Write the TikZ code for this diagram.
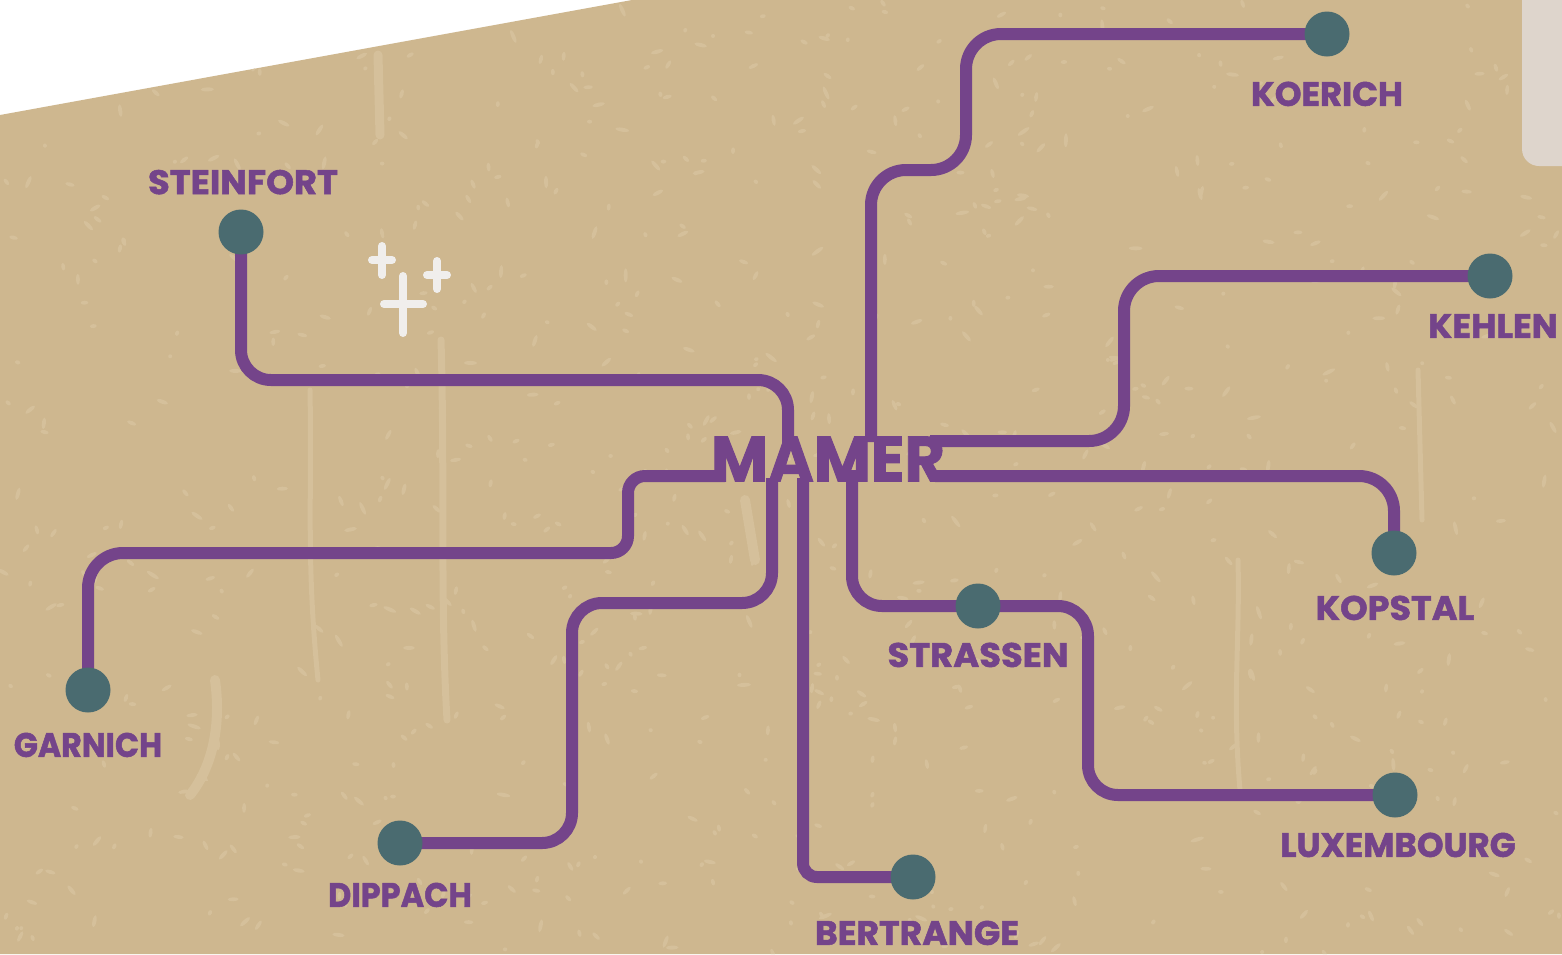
\documentclass[tikz,border=0pt]{standalone}
\usepackage{fontspec}
\setmainfont{Poppins}[BoldFeatures={FakeBold=1.5}]
\usetikzlibrary{positioning,backgrounds}
\definecolor{sand}{HTML}{CEB78F}
\definecolor{sandlight}{HTML}{D5C09B}
\definecolor{plum}{HTML}{74448A}
\definecolor{slate}{HTML}{4A6B70}
\definecolor{chalk}{HTML}{F0EEEC}
\definecolor{panelgray}{HTML}{DED5CC}
\newcommand{\stopname}[2]{\scalebox{#1}[1]{#2}}
\tikzset{
  stop/.style={
    circle,
    fill=slate,
    draw=none,
    inner sep=0pt,
    minimum size=45pt
  },
  stoplabel/.style={
    text=plum,
    inner sep=0pt,
    text height=24pt,
    text depth=0pt,
    font=\fontsize{34}{34}\selectfont\bfseries
  },
  hublabel/.style={
    text=plum,
    inner sep=0pt,
    font=\fontsize{64}{64}\selectfont\bfseries
  },
  line/.style={draw=plum,line width=12pt},
  sparkle/.style={draw=chalk,line width=8pt,line cap=round},
  streak/.style={draw=sandlight,line cap=round}
}

\begin{document}
\begin{tikzpicture}[x=1pt,y=-1pt]
\useasboundingbox (0,0) rectangle (1562,954);
% hub and stops
\node[hublabel] (mamer) at (828,459) {\stopname{0.97}{MAMER}};
\coordinate (hubkoerich) at (871,442);
\coordinate (hubkehlen) at (930,441);
\coordinate (hubkopstal) at (935,476);
\coordinate (hubstrassen) at (852,470);
\coordinate (hubbertrange) at (803,478);
\coordinate (hubdippach) at (772,478);
\coordinate (hubgarnich) at (725,476);
\coordinate (hubsteinfort) at (788,445);
\node[stop] (koerich) at (1327,34) {};
\node[stop] (kehlen) at (1490,276) {};
\node[stop] (kopstal) at (1394,553) {};
\node[stop] (strassen) at (978,606) {};
\node[stop] (luxembourg) at (1395,795) {};
\node[stop] (bertrange) at (913,877) {};
\node[stop] (dippach) at (400,843) {};
\node[stop] (garnich) at (88,690) {};
\node[stop] (steinfort) at (241,232) {};
% labels
\node[stoplabel,below=25pt of koerich] (koerichlabel) {KOERICH};
\node[stoplabel,below=15pt of kehlen,xshift=3pt] (kehlenlabel) {\stopname{1.02}{KEHLEN}};
\node[stoplabel,below=20pt of kopstal,xshift=1pt] (kopstallabel) {\stopname{1.03}{KOPSTAL}};
\node[stoplabel,below=14pt of strassen] (strassenlabel) {\stopname{1.04}{STRASSEN}};
\node[stoplabel,below=15pt of luxembourg,xshift=3pt] (luxembourglabel) {LUXEMBOURG};
\node[stoplabel,below=21pt of bertrange,xshift=4pt] (bertrangelabel) {\stopname{1.02}{BERTRANGE}};
\node[stoplabel,below=17pt of dippach] (dippachlabel) {\stopname{0.94}{DIPPACH}};
\node[stoplabel,below=20pt of garnich] (garnichlabel) {\stopname{0.93}{GARNICH}};
\node[stoplabel,above=15pt of steinfort,xshift=2pt] (steinfortlabel) {\stopname{1.04}{STEINFORT}};
% sparkle
\draw[sparkle] (384,304) -- (423,304);
\draw[sparkle] (403,276) -- (403,333);
\draw[sparkle] (372,260) -- (392,260);
\draw[sparkle] (382,246) -- (382,275);
\draw[sparkle] (427,275) -- (447,275);
\draw[sparkle] (437,261) -- (437,289);
\begin{scope}[on background layer]
% ground
\fill[white] (0,0) rectangle (1562,954);
\fill[sand] (0,115) -- (632,0) -- (1562,0) -- (1562,954) -- (0,954) -- cycle;
\begin{scope}
\clip (0,115) -- (632,0) -- (1562,0) -- (1562,954) -- (0,954) -- cycle;
\pgfmathsetseed{7}
\foreach \i in {1,...,800}{
  \pgfmathsetmacro\spx{rnd*1562}
  \pgfmathsetmacro\spy{rnd*954}
  \pgfmathsetmacro\spr{2+rnd*5}
  \pgfmathsetmacro\spa{rnd*180}
  \fill[sandlight,rotate around={\spa:(\spx,\spy)}] (\spx,\spy) ellipse (\spr pt and 2pt);
}
\draw[streak,line width=9pt] (378,55) -- (380,135);
\draw[streak,line width=7pt] (441,340) .. controls (445,480) and (440,600) .. (447,720);
\draw[streak,line width=5pt] (310,390) .. controls (312,500) and (306,560) .. (318,680);
\draw[streak,line width=10pt] (215,680) .. controls (222,730) and (210,770) .. (190,795);
\draw[streak,line width=10pt] (745,500) -- (755,560);
\draw[streak,line width=5pt] (1238,560) .. controls (1240,640) and (1232,700) .. (1240,790);
\draw[streak,line width=5pt] (1418,370) -- (1422,520);
\end{scope}
\fill[panelgray,rounded corners=17pt] (1522,-30) -- (1522,166) -- (1590,166) -- (1590,-30) -- cycle;
% lines
\draw[line,rounded corners=35pt] (koerich.center) -- (966,34) -- (966,170) -- (871,170) -- (hubkoerich);
\draw[line,rounded corners=35pt] (kehlen.center) -- (1124,276) -- (1124,441) -- (hubkehlen);
\draw[line,rounded corners=35pt] (kopstal.center) -- (1394,476) -- (hubkopstal);
\draw[line,rounded corners=30pt] (hubstrassen) -- (852,606) -- (strassen.center);
\draw[line,rounded corners=30pt] (strassen.center) -- (1088,606) -- (1088,795) -- (luxembourg.center);
\draw[line,rounded corners=14pt] (hubbertrange) -- (803,877) -- (bertrange.center);
\draw[line,rounded corners=30pt] (dippach.center) -- (572,843) -- (572,603) -- (772,603) -- (hubdippach);
\draw[line,rounded corners=35pt] (garnich.center) -- (88,553) [rounded corners=17pt] -- (628,553) -- (628,476) -- (hubgarnich);
\draw[line,rounded corners=30pt] (steinfort.center) -- (241,380) -- (788,380) -- (hubsteinfort);
\end{scope}
\end{tikzpicture}
\end{document}
